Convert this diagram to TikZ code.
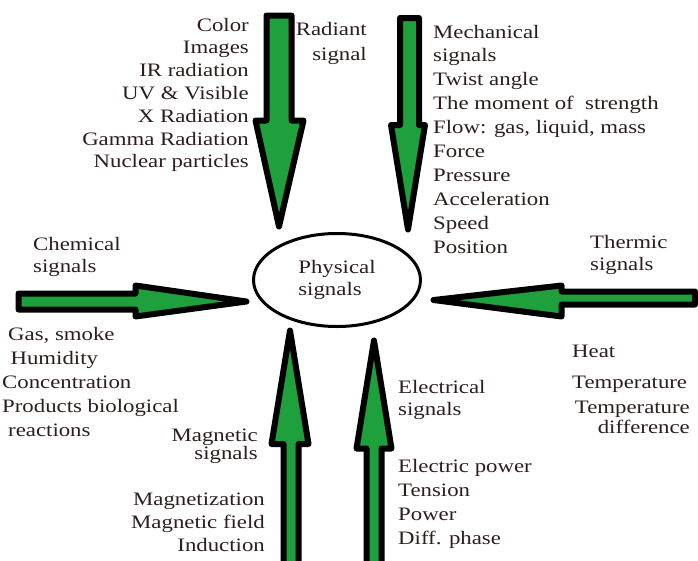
\documentclass[tikz,border=0pt]{standalone}
\usepackage{fontspec}
\usepackage{graphicx}
\setmainfont{Liberation Serif}
\usetikzlibrary{shapes.geometric}
\definecolor{arrowgreen}{RGB}{30,160,60}
\definecolor{txtc}{RGB}{45,30,30}
\newcommand\lns[3]{\scalebox{1.2}[1]{\fontsize{19}{#1}\selectfont\begin{tabular}[t]{@{}#2@{}}#3\end{tabular}}}
\begin{document}
\begin{tikzpicture}[x=1pt,y=-1pt,
  txt/.style={inner sep=0pt, text=txtc},
  blockarrow/.style={fill=arrowgreen, draw=black, line width=6pt, line join=round},
  physnode/.style={ellipse, draw=black, line width=3pt, minimum width=167pt, minimum height=93pt, inner sep=0pt, text=txtc}]
\clip (0,0) rectangle (698,560);
\fill[white] (0,0) rectangle (698,560);
% block arrows
\draw[blockarrow] (266.5,15.5) -- (291.5,15.5) -- (291.5,120.5) -- (303.5,120.5) -- (279,226.5) -- (255.5,120.5) -- (266.5,120.5) -- cycle;
\draw[blockarrow] (400,18) -- (419,18) -- (419,125) -- (425,125) -- (408,229.5) -- (391,125) -- (400,125) -- cycle;
\draw[blockarrow] (18.5,293.5) -- (135.5,293.5) -- (135.5,285.5) -- (246.5,301.5) -- (135.5,316.5) -- (135.5,309.5) -- (18.5,309.5) -- cycle;
\draw[blockarrow] (695,291.5) -- (561.5,291.5) -- (561.5,285.5) -- (433.5,300) -- (561.5,316.5) -- (561.5,304.5) -- (695,304.5) -- cycle;
\draw[blockarrow] (283.5,575) -- (283.5,444) -- (271.5,444) -- (290,330.5) -- (308.5,444) -- (298.5,444) -- (298.5,575) -- cycle;
\draw[blockarrow] (366.5,575) -- (366.5,448.5) -- (356.5,448.5) -- (374,340.5) -- (391.5,448.5) -- (381.5,448.5) -- (381.5,575) -- cycle;
% centre
\node[physnode] (phys) at (337,280) {\lns{22}{l}{Physical\\signals}};
% texts
\node[txt, anchor=base east] (radlist) at (249,31) {\lns{22.8}{r}{Color\\Images\\IR radiation\\UV \& Visible\\X Radiation\\Gamma Radiation\\Nuclear particles}};
\node[txt, anchor=base east] (radiant) at (367,35) {\lns{25}{r}{Radiant\\signal}};
\node[txt, anchor=base west] (mech) at (433,38) {\lns{23.9}{l}{Mechanical\\signals\\Twist angle\\The moment of~ strength\\Flow: gas, liquid, mass\\Force\\Pressure\\Acceleration\\Speed\\Position}};
\node[txt, anchor=base west] (chem) at (33,250) {\lns{22}{l}{Chemical\\signals}};
\node[txt, anchor=base west] (chemlist) at (2,340) {\lns{24}{l}{\hspace*{5pt}Gas, smoke\\\hspace*{7pt}Humidity\\Concentration\\Products biological\\\hspace*{5pt}reactions}};
\node[txt, anchor=base west] (therm) at (590,248) {\lns{22}{l}{Thermic\\signals}};
\node[txt, anchor=base west] (heat) at (572,357) {\lns{20}{l}{Heat}};
\node[txt, anchor=base west] (temp) at (572,388) {\lns{20}{l}{Temperature}};
\node[txt, anchor=base east] (tdiff) at (690,413) {\lns{20}{r}{Temperature\\difference}};
\node[txt, anchor=base east] (magn) at (258,441) {\lns{18}{r}{Magnetic\\signals}};
\node[txt, anchor=base east] (magnlist) at (265,505) {\lns{23}{r}{Magnetization\\Magnetic field\\Induction}};
\node[txt, anchor=base west] (elec) at (398,393) {\lns{22}{l}{Electrical\\signals}};
\node[txt, anchor=base west] (eleclist) at (398,472) {\lns{24.3}{l}{Electric power\\Tension\\Power\\Diff. phase}};
\end{tikzpicture}
\end{document}
